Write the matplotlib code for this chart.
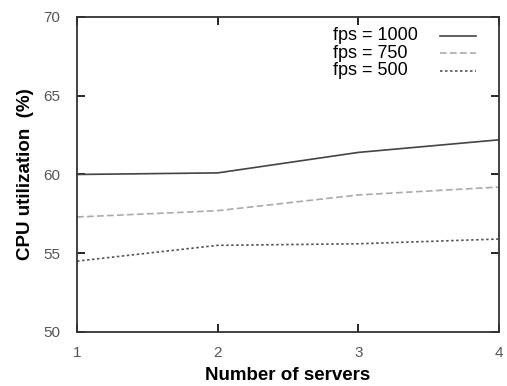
import matplotlib
matplotlib.use("Agg")
import matplotlib.pyplot as plt

servers = [1, 2, 3, 4]
fps_1000 = [60.0, 60.1, 61.4, 62.2]
fps_750 = [57.3, 57.7, 58.7, 59.2]
fps_500 = [54.5, 55.5, 55.6, 55.9]
labels = ['fps = 1000', 'fps = 750', 'fps = 500']

plt.rcParams['font.family'] = ['Liberation Sans', 'DejaVu Sans']

fig = plt.figure(figsize=(5.07, 3.86), dpi=100)
ax = fig.add_axes([0.152, 0.140, 0.832, 0.816])

styles = [('#444444', '-'), ('#aaaaaa', (0, (4, 2))), ('#555555', (0, (1.5, 1.5)))]
for ys, (c, ls) in zip([fps_1000, fps_750, fps_500], styles):
    ax.plot(servers, ys, color=c, lw=1.2, ls=ls)

# gnuplot style key: left aligned labels, samples to the right
for i, (lab, (c, ls)) in enumerate(zip(labels, styles)):
    yk = 0.94 - i * 0.055
    ax.text(0.607, yk, lab, transform=ax.transAxes, fontsize=13,
            va='center', ha='left')
    ax.plot([0.86, 0.945], [yk, yk], transform=ax.transAxes, color=c,
            lw=1.2, ls=ls)

ax.set_xlim(1, 4)
ax.set_ylim(50, 70)
ax.set_xticks([1, 2, 3, 4])
ax.set_yticks([50, 55, 60, 65, 70])
ax.tick_params(direction='in', length=6, width=1.2, top=True, right=True,
               labelsize=11, labelcolor='#555555')
ax.tick_params(axis='y', pad=12)
ax.tick_params(axis='x', pad=10)
for s in ax.spines.values():
    s.set_linewidth(1.3)
    s.set_color('#333333')

ax.set_xlabel('Number of servers', fontsize=13.5, fontweight='bold', labelpad=5)
ax.set_ylabel('CPU utilization  (%)', fontsize=13.5, fontweight='bold', labelpad=7)

fig.savefig('out.png', dpi=100)
